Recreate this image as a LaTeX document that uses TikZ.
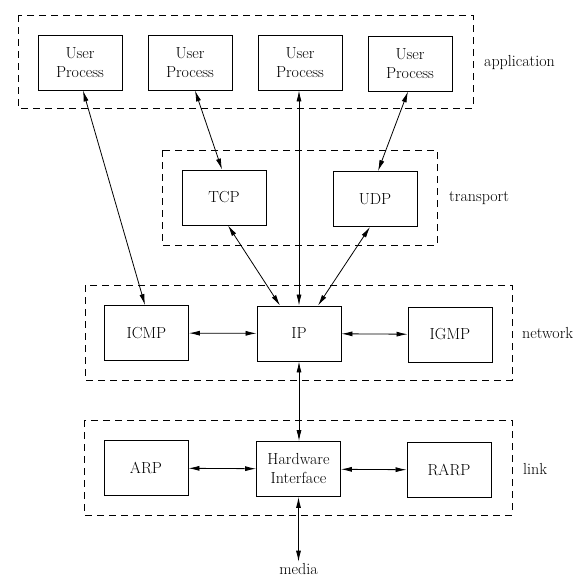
\documentclass[tikz,border=0pt]{standalone}
\usepackage{fontspec}
\usepackage{tikz}
\usetikzlibrary{arrows.meta,calc,positioning}

\begin{document}
\begin{tikzpicture}[x=1pt,y=-1pt,
		proto/.style={draw,line width=0.9pt,minimum width=84pt,minimum height=55pt,inner sep=0pt,align=center,font=\fontsize{16}{19}\selectfont},
		layer/.style={draw,line width=0.9pt,dash pattern=on 7pt off 5pt},
		layername/.style={anchor=west,inner sep=0pt,font=\fontsize{16}{19}\selectfont},
		conn/.style={line width=0.8pt,{Latex[length=11pt,width=5pt]}-{Latex[length=11pt,width=5pt]}}]
		\useasboundingbox (0,0) rectangle (584,579);
		
		% layers
		\draw[layer] (18,15) rectangle (473,108);
		\draw[layer] (162,150) rectangle (437,245);
		\draw[layer] (85,285) rectangle (512,380);
		\draw[layer] (84,420) rectangle (512,515);
		\node[layername] (application) at (484,63) {application};
		\node[layername] (transport) at (449,198) {transport};
		\node[layername] (network) at (522,333) {network};
		\node[layername] (linklayer) at (523,469) {link};
		
		% protocols
		\node[proto] (up1) at (80,62.5) {User\\Process};
		\node[proto] (up2) at (190,62.5) {User\\Process};
		\node[proto] (up3) at (300,62.5) {User\\Process};
		\node[proto] (up4) at (410,63.5) {User\\Process};
		\node[proto] (tcp) at (224,197.5) {TCP};
		\node[proto] (udp) at (375,199) {UDP};
		\node[proto] (icmp) at (146.5,333) {ICMP};
		\node[proto] (ip) at (299,333.5) {IP};
		\node[proto] (igmp) at (450,334.5) {IGMP};
		\node[proto] (arp) at (146,468) {ARP};
		\node[proto] (hw) at (298.5,469) {Hardware\\Interface};
		\node[proto] (rarp) at (449,470) {RARP};
		\node[inner sep=1.5pt,font=\fontsize{16}{19}\selectfont] (media) at (298.5,569) {media};
		
		% connections
		\draw[conn] ([xshift=3pt]up1.south) -- ([xshift=-1.5pt]icmp.north);
		\draw[conn] ([xshift=5pt]up2.south) -- ([xshift=-2pt]tcp.north);
		\draw[conn] (ip.north |- up3.south) -- (ip.north);
		\draw[conn] ([xshift=-2pt]up4.south) -- ([xshift=3pt]udp.north);
		\draw[conn] ([xshift=4pt]tcp.south) -- ([xshift=-19pt]ip.north);
		\draw[conn] ([xshift=-5pt]udp.south) -- ([xshift=19pt]ip.north);
		\draw[conn] (icmp) -- (ip);
		\draw[conn] (ip) -- (igmp);
		\draw[conn] (ip.south) -- (ip.south |- hw.north);
		\draw[conn] (arp) -- (hw);
		\draw[conn] (hw) -- (rarp);
		\draw[conn] (hw.south) -- (media.north);
	\end{tikzpicture}
\end{document}
